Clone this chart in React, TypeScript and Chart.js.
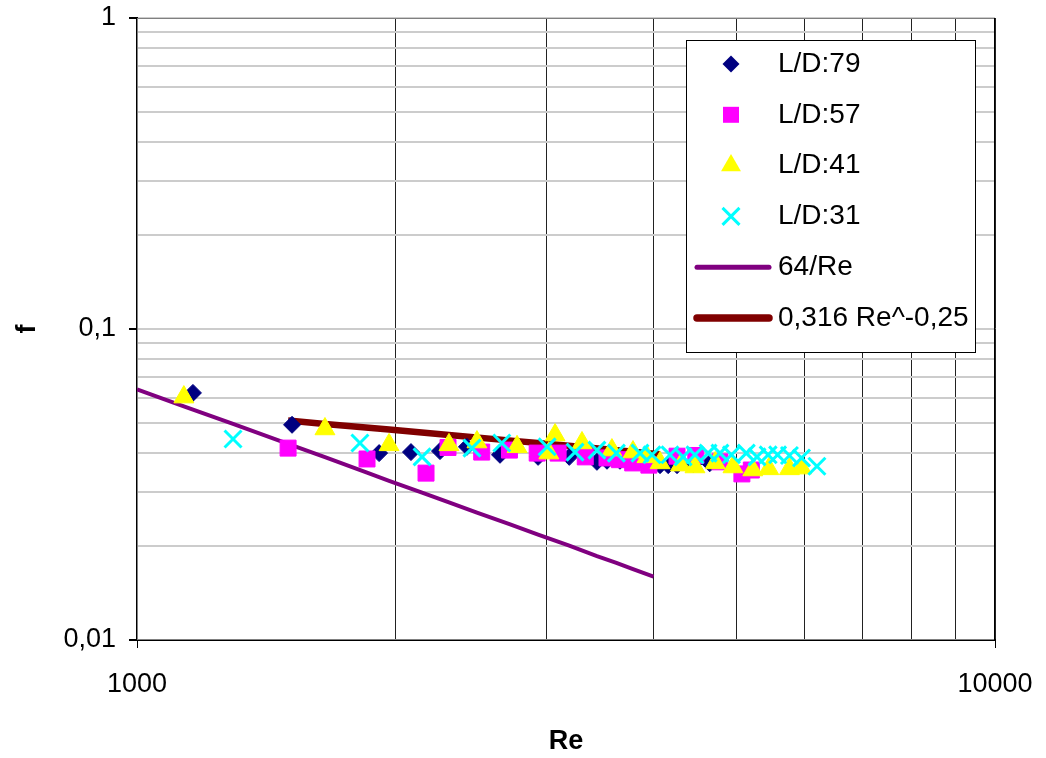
import React, { useEffect, useRef } from 'react';
import { Chart, registerables } from 'chart.js';

Chart.register(...registerables);

// ---- data ----
const re79 = [1162, 1516, 1915, 2086, 2255, 2424, 2649, 2934, 3190, 3436, 3530, 3655, 3782, 3900, 4070, 4160, 4260, 4450, 4650];
const f79 = [0.0623, 0.0492, 0.0399, 0.0402, 0.0405, 0.0418, 0.0394, 0.0388, 0.0388, 0.0374, 0.0377, 0.0377, 0.0377, 0.0372, 0.0365, 0.0365, 0.0365, 0.0368, 0.037];

const re57 = [1500, 1854, 2172, 2304, 2522, 2717, 2927, 3096, 3330, 3530, 3650, 3782, 3950, 4260, 4480, 4780, 5070, 5200];
const f57 = [0.0414, 0.0382, 0.0344, 0.0416, 0.0402, 0.0408, 0.0399, 0.0399, 0.0388, 0.0385, 0.038, 0.0371, 0.0365, 0.039, 0.0392, 0.0374, 0.0342, 0.0352];

const re41 = [1134, 1656, 1967, 2310, 2490, 2773, 3020, 3071, 3301, 3577, 3785, 3930, 4070, 4300, 4470, 4720, 4950, 5220, 5450, 5760, 5950];
const f41 = [0.0604, 0.0477, 0.0424, 0.0424, 0.0433, 0.0418, 0.0399, 0.0456, 0.043, 0.0408, 0.0402, 0.0388, 0.0371, 0.0365, 0.036, 0.0371, 0.036, 0.0352, 0.0355, 0.0355, 0.0357];

const re31 = [1294, 1819, 2149, 2457, 2662, 3006, 3240, 3436, 3620, 3857, 3983, 4180, 4330, 4470, 4630, 4780, 4930, 5130, 5280, 5440, 5580, 5760, 5950, 6201];
const f31 = [0.0443, 0.043, 0.0388, 0.0414, 0.043, 0.0418, 0.0402, 0.0408, 0.0399, 0.0399, 0.0394, 0.0394, 0.0388, 0.0394, 0.0399, 0.0399, 0.0394, 0.0399, 0.0388, 0.0394, 0.0394, 0.0392, 0.0385, 0.0362];

const reLam = [1000, 1134, 1294, 1500, 1656, 1854, 1967, 2149, 2310, 2490, 2717, 2934, 3190, 3436, 3620, 3785, 4000];
const fLam = [0.064, 0.0564, 0.0495, 0.0427, 0.0387, 0.0345, 0.0325, 0.0298, 0.0277, 0.0257, 0.0236, 0.0218, 0.0201, 0.0186, 0.0177, 0.0169, 0.016];

const reBla = [1500, 1656, 1967, 2310, 2773, 3071, 3577, 4070];
const fBla = [0.0508, 0.0495, 0.0475, 0.0456, 0.0436, 0.0425, 0.0409, 0.0396];

const xTicks = [1000, 2000, 3000, 4000, 5000, 6000, 7000, 8000, 9000, 10000];
const yTicks = [0.01, 0.02, 0.03, 0.04, 0.05, 0.06, 0.07, 0.08, 0.09, 0.1, 0.2, 0.3, 0.4, 0.5, 0.6, 0.7, 0.8, 0.9, 1];
const xLabelMap: Record<string, string> = { '1000': '1000', '10000': '10000' };
const yLabelMap: Record<string, string> = { '0.01': '0,01', '0.1': '0,1', '1': '1' };

const seriesLabels = ['L/D:79', 'L/D:57', 'L/D:41', 'L/D:31', '64/Re', '0,316 Re^-0,25'];

const FONT = 'Liberation Sans, Arial, sans-serif';

const pts = (xs: number[], ys: number[]) => xs.map((x, i) => ({ x, y: ys[i] }));

function drawMarker(ctx: CanvasRenderingContext2D, style: string, x: number, y: number, r: number, color: string, lw: number) {
  ctx.save();
  ctx.fillStyle = color;
  ctx.strokeStyle = color;
  ctx.lineWidth = lw;
  ctx.beginPath();
  if (style === 'rectRot') {
    ctx.moveTo(x - r, y);
    ctx.lineTo(x, y - r);
    ctx.lineTo(x + r, y);
    ctx.lineTo(x, y + r);
    ctx.closePath();
    ctx.fill();
  } else if (style === 'rect') {
    const s = Math.SQRT1_2 * r;
    ctx.rect(x - s, y - s, 2 * s, 2 * s);
    ctx.fill();
  } else if (style === 'triangle') {
    let rad = 0;
    ctx.moveTo(x + Math.sin(rad) * r, y - Math.cos(rad) * r);
    rad += (2 * Math.PI) / 3;
    ctx.lineTo(x + Math.sin(rad) * r, y - Math.cos(rad) * r);
    rad += (2 * Math.PI) / 3;
    ctx.lineTo(x + Math.sin(rad) * r, y - Math.cos(rad) * r);
    ctx.closePath();
    ctx.fill();
  } else if (style === 'crossRot') {
    const d = Math.SQRT1_2 * r;
    ctx.moveTo(x - d, y - d);
    ctx.lineTo(x + d, y + d);
    ctx.moveTo(x - d, y + d);
    ctx.lineTo(x + d, y - d);
    ctx.stroke();
  }
  ctx.restore();
}

const frameAndLegend = {
  id: 'frameAndLegend',
  beforeDatasetsDraw(chart: any) {
    const { ctx, chartArea } = chart;
    ctx.save();
    ctx.strokeStyle = '#808080';
    ctx.lineWidth = 1;
    ctx.strokeRect(chartArea.left + 0.5, chartArea.top + 0.5, chartArea.right - chartArea.left - 1, chartArea.bottom - chartArea.top - 1);
    ctx.strokeStyle = '#000';
    ctx.beginPath();
    ctx.moveTo(chartArea.right - 0.5, chartArea.top);
    ctx.lineTo(chartArea.right - 0.5, chartArea.bottom);
    ctx.stroke();
    ctx.restore();
  },
  afterDraw(chart: any) {
    const ctx: CanvasRenderingContext2D = chart.ctx;
    ctx.save();
    const x0 = 686, y0 = 40, w = 289, h = 312;
    ctx.fillStyle = '#fff';
    ctx.fillRect(x0, y0, w, h);
    ctx.strokeStyle = '#000';
    ctx.lineWidth = 1;
    ctx.strokeRect(x0 + 0.5, y0 + 0.5, w, h);
    chart.data.datasets.forEach((ds: any, i: number) => {
      const cy = 64 + i * 50.8;
      if (ds.showLine) {
        ctx.save();
        ctx.strokeStyle = ds.borderColor;
        ctx.lineWidth = ds.borderWidth + 1;
        ctx.lineCap = 'round';
        ctx.beginPath();
        ctx.moveTo(697, cy);
        ctx.lineTo(769, cy);
        ctx.stroke();
        ctx.restore();
      } else {
        drawMarker(ctx, ds.pointStyle, 731, cy, ds.pointRadius, ds.backgroundColor, ds.pointStyle === 'crossRot' ? ds.borderWidth : 1);
      }
      ctx.fillStyle = '#000';
      ctx.font = `28px ${FONT}`;
      ctx.textAlign = 'left';
      ctx.textBaseline = 'middle';
      ctx.fillText(ds.label, 778, cy);
    });
    ctx.restore();
  },
};

export default function App() {
  const ref = useRef<HTMLCanvasElement>(null);
  useEffect(() => {
    if (!ref.current) return;
    const chart = new Chart(ref.current, {
      type: 'scatter',
      data: {
        datasets: [
          { label: seriesLabels[0], data: pts(re79, f79), pointStyle: 'rectRot', pointRadius: 8.5, backgroundColor: '#000080', borderColor: '#000080', borderWidth: 1, showLine: false, order: 4 },
          { label: seriesLabels[1], data: pts(re57, f57), pointStyle: 'rect', pointRadius: 11.3, backgroundColor: '#FF00FF', borderColor: '#FF00FF', borderWidth: 1, showLine: false, order: 3 },
          { label: seriesLabels[2], data: pts(re41, f41), pointStyle: 'triangle', pointRadius: 11.5, backgroundColor: '#FFFF00', borderColor: '#FFFF00', borderWidth: 1, showLine: false, order: 2 },
          { label: seriesLabels[3], data: pts(re31, f31), pointStyle: 'crossRot', pointRadius: 12, backgroundColor: '#00FFFF', borderColor: '#00FFFF', borderWidth: 3, showLine: false, order: 1 },
          { label: seriesLabels[4], data: pts(reLam, fLam), showLine: true, pointRadius: 0, borderColor: '#800080', backgroundColor: '#800080', borderWidth: 4, order: 6 },
          { label: seriesLabels[5], data: pts(reBla, fBla), showLine: true, pointRadius: 0, borderColor: '#800000', backgroundColor: '#800000', borderWidth: 6.5, order: 5 },
        ] as any,
      },
      options: {
        animation: false,
        responsive: false,
        devicePixelRatio: 1,
        events: [],
        layout: { padding: { left: 0, top: 18, right: 51, bottom: 0 } },
        plugins: { legend: { display: false }, tooltip: { enabled: false } },
        scales: {
          x: {
            type: 'logarithmic',
            min: 1000,
            max: 10000,
            afterBuildTicks: (s: any) => { s.ticks = xTicks.map((v) => ({ value: v })); },
            afterFit: (s: any) => { s.height = 118; s.paddingLeft = 0; s.paddingRight = 0; },
            ticks: {
              autoSkip: false, maxRotation: 0, minRotation: 0, color: '#000', padding: 20,
              font: { family: FONT, size: 27 },
              callback: (v: any) => xLabelMap[String(v)] ?? '',
            },
            grid: {
              color: (c: any) => (c.tick && c.tick.value === 1000 ? 'rgba(0,0,0,0)' : '#222'),
              lineWidth: 1,
              tickLength: 8,
              tickColor: (c: any) => (c.tick && xLabelMap[String(c.tick.value)] ? '#000' : 'rgba(0,0,0,0)'),
            },
            border: { color: '#000', width: 2 },
            title: { display: true, text: 'Re', color: '#000', font: { family: FONT, size: 27, weight: 'bold' }, padding: { top: 0, bottom: 0 } },
          },
          y: {
            type: 'logarithmic',
            min: 0.01,
            max: 1,
            afterBuildTicks: (s: any) => { s.ticks = yTicks.map((v) => ({ value: v })); },
            afterFit: (s: any) => { s.width = 137; s.paddingTop = 0; s.paddingBottom = 0; },
            ticks: {
              autoSkip: false, color: '#000', padding: 13,
              font: { family: FONT, size: 27 },
              callback: (v: any) => yLabelMap[String(v)] ?? '',
            },
            grid: {
              color: (c: any) => (c.tick && c.tick.value === 0.01 ? 'rgba(0,0,0,0)' : '#cccccc'),
              lineWidth: 2,
              tickLength: 8,
              tickColor: (c: any) => (c.tick && yLabelMap[String(c.tick.value)] ? '#000' : 'rgba(0,0,0,0)'),
            },
            border: { color: '#000', width: 2 },
            title: { display: true, text: 'f', color: '#000', font: { family: FONT, size: 27, weight: 'bold' }, padding: { top: 11, bottom: 0 } },
          },
        },
      } as any,
      plugins: [frameAndLegend],
    });
    return () => chart.destroy();
  }, []);
  return (
    <div style={{ position: 'absolute', left: 0, top: 0, width: 1046, height: 758, background: '#fff' }}>
      <canvas ref={ref} width={1046} height={758} style={{ display: 'block', width: 1046, height: 758 }} />
    </div>
  );
}
